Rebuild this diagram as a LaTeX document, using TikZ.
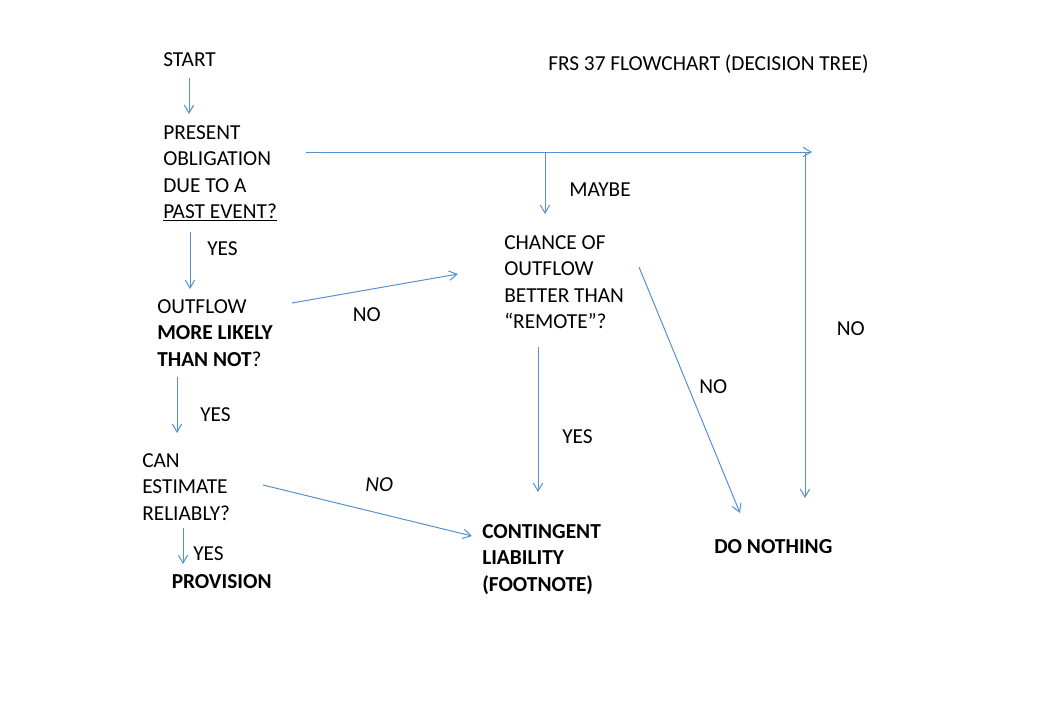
\documentclass[tikz,border=0pt]{standalone}
\usepackage{fontspec}
\setmainfont{Carlito}
\usetikzlibrary{arrows.meta}
\definecolor{flowblue}{RGB}{86,145,206}
\begin{document}
\begin{tikzpicture}[x=0.75pt,y=-0.75pt,
  lbl/.style={inner sep=0pt, anchor=base west, font=\fontsize{16}{20}\selectfont},
  blk/.style={inner sep=0pt, anchor=north west, align=left, font=\fontsize{16}{19.9}\selectfont},
  flow/.style={draw=flowblue, line width=0.75pt, -{Straight Barb[length=6pt,width=7pt]}},
  plainline/.style={draw=flowblue, line width=0.75pt}]
\useasboundingbox (0,0) rectangle (1039,719);
% text blocks
\node[lbl] (start) at (163,66.5) {START};
\node[lbl] (title) at (548,70) {FRS 37 FLOWCHART (DECISION TREE)};
\node[blk] (present) at (163,125) {PRESENT\\OBLIGATION\\DUE TO A\\\underline{PAST EVENT?}};
\node[blk] (outflow) at (157,299) {OUTFLOW\\\textbf{MORE LIKELY}\\\textbf{THAN NOT}?};
\node[blk] (canest) at (142,453) {CAN\\ESTIMATE\\RELIABLY?};
\node[blk] (chance) at (504,235) {CHANCE OF\\OUTFLOW\\BETTER THAN\\“REMOTE”?};
\node[blk, font=\fontsize{16}{19.9}\selectfont\bfseries] (conting) at (482,524) {CONTINGENT\\LIABILITY\\(FOOTNOTE)};
\node[lbl, font=\fontsize{16}{20}\selectfont\bfseries] (prov) at (171.5,588.5) {PROVISION};
\node[lbl, font=\fontsize{16}{20}\selectfont\bfseries] (nothing) at (714,553) {DO NOTHING};
% labels
\node[lbl] (yesA) at (207,255) {YES};
\node[lbl] (yesB) at (200,421.5) {YES};
\node[lbl] (yesC) at (193,560) {YES};
\node[lbl] (yesD) at (562,443) {YES};
\node[lbl] (noA) at (352.5,321) {NO};
\node[lbl] (maybe) at (569,196.5) {MAYBE};
\node[lbl] (noB) at (836.5,335) {NO};
\node[lbl] (noC) at (699,393) {NO};
\node[lbl, font=\fontsize{16}{20}\selectfont\itshape] (noD) at (365,491) {NO};
% connector end points
\coordinate (s1) at (189,78);   \coordinate (e1) at (189,114);
\coordinate (hs) at (306,152);  \coordinate (he) at (812,152);
\coordinate (mj) at (545,152);  \coordinate (me) at (545,214);
\coordinate (rj) at (805,152);  \coordinate (re) at (805,498);
\coordinate (s2) at (190,232);  \coordinate (e2) at (190,289);
\coordinate (s3) at (292,303);  \coordinate (e3) at (458,274);
\coordinate (s4) at (177,377);  \coordinate (e4) at (177,433);
\coordinate (s5) at (263,485);  \coordinate (e5) at (472,536);
\coordinate (s6) at (183,528);  \coordinate (e6) at (183,564);
\coordinate (s7) at (538,347);  \coordinate (e7) at (538,492);
\coordinate (s8) at (639,267);  \coordinate (e8) at (740,513);
% connectors
\draw[flow] (s1) -- (e1);
\draw[flow] (hs) -- (he);
\draw[flow] (mj) -- (me);
\draw[flow] (rj) -- (re);
\draw[flow] (s2) -- (e2);
\draw[flow] (s3) -- (e3);
\draw[flow] (s4) -- (e4);
\draw[flow] (s5) -- (e5);
\draw[flow] (s6) -- (e6);
\draw[flow] (s7) -- (e7);
\draw[flow] (s8) -- (e8);
\end{tikzpicture}
\end{document}
